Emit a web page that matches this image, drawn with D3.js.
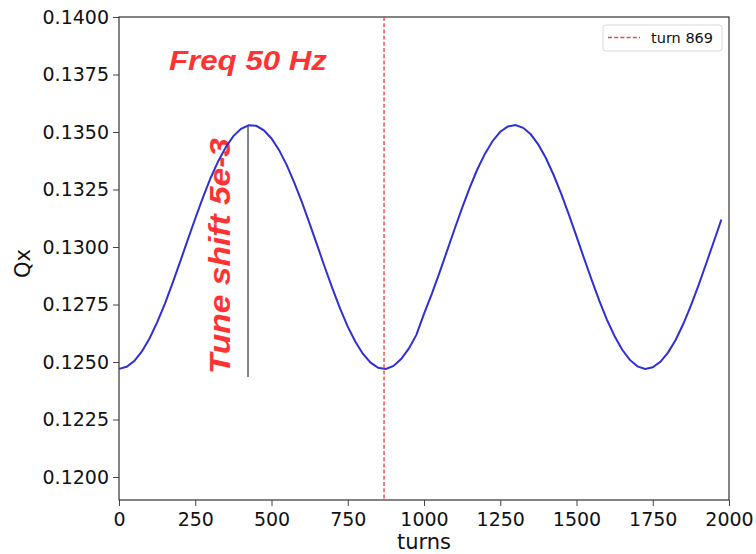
<!DOCTYPE html>
<html>
<head>
<meta charset="utf-8">
<script src="https://cdn.jsdelivr.net/npm/d3@7/dist/d3.min.js"></script>
<style>
  body { margin: 0; background: #fff; }
  svg { display: block; }
</style>
</head>
<body>
<svg id="chart" width="756" height="554"></svg>
<script>
// turns sampled every 25
const turns = d3.range(0, 2000, 25);

// Qx
const qx = [
  0.12470, 0.12479, 0.12504, 0.12546, 0.12602, 0.12672, 0.12752, 0.12841,
  0.12934, 0.13030, 0.13124, 0.13215, 0.13299, 0.13372, 0.13434, 0.13482,
  0.13514, 0.13529, 0.13527, 0.13507, 0.13472, 0.13421, 0.13356, 0.13279,
  0.13194, 0.13102, 0.13007, 0.12911, 0.12819, 0.12732, 0.12654, 0.12588,
  0.12535, 0.12497, 0.12475, 0.12470, 0.12483, 0.12513, 0.12558, 0.12618,
  0.12709, 0.12794, 0.12885, 0.12981, 0.13077, 0.13170, 0.13258, 0.13338,
  0.13406, 0.13461, 0.13501, 0.13524, 0.13530, 0.13518, 0.13490, 0.13445,
  0.13386, 0.13313, 0.13231, 0.13141, 0.13046, 0.12950, 0.12856, 0.12766,
  0.12683, 0.12612, 0.12553, 0.12509, 0.12481, 0.12470, 0.12477, 0.12501,
  0.12541, 0.12596, 0.12665, 0.12745, 0.12833, 0.12927, 0.13023, 0.13119
];

const xTicks = [0, 250, 500, 750, 1000, 1250, 1500, 1750, 2000];
const yTicks = [0.1200, 0.1225, 0.1250, 0.1275, 0.1300, 0.1325, 0.1350, 0.1375, 0.1400];

const markTurn = 869;
const shiftTurn = 423;
const shiftRange = [0.12435, 0.13525];

const svg = d3.select('#chart');
const m = { left: 119, right: 729, top: 17, bottom: 500 };

const x = d3.scaleLinear().domain([0, 2000]).range([m.left, m.right]);
const y = d3.scaleLinear().domain([0.1190, 0.1400]).range([m.bottom, m.top]);

// axes
const xAxis = svg.append('g')
  .attr('transform', `translate(0,${m.bottom})`)
  .call(d3.axisBottom(x).tickValues(xTicks).tickFormat(d3.format('d')).tickSize(6).tickPadding(4));
const yAxis = svg.append('g')
  .attr('transform', `translate(${m.left},0)`)
  .call(d3.axisLeft(y).tickValues(yTicks).tickFormat(d3.format('.4f')).tickSize(6).tickPadding(4));

[xAxis, yAxis].forEach(g => {
  g.selectAll('text')
    .attr('font-family', 'DejaVu Sans')
    .attr('font-size', 19)
    .attr('fill', '#111');
  g.selectAll('line').attr('stroke', '#444');
  g.select('.domain').remove();
});
xAxis.selectAll('text').attr('dy', '0.85em');

// frame
svg.append('rect')
  .attr('x', m.left).attr('y', m.top)
  .attr('width', m.right - m.left).attr('height', m.bottom - m.top)
  .attr('fill', 'none').attr('stroke', '#333').attr('stroke-width', 1.2);

// axis labels
svg.append('text')
  .attr('x', (m.left + m.right) / 2).attr('y', 549)
  .attr('text-anchor', 'middle')
  .attr('font-family', 'DejaVu Sans').attr('font-size', 21)
  .attr('fill', '#111')
  .text('turns');
svg.append('text')
  .attr('transform', `translate(30,${(m.top + m.bottom) / 2 + 5}) rotate(-90)`)
  .attr('text-anchor', 'middle')
  .attr('font-family', 'DejaVu Sans').attr('font-size', 21)
  .attr('fill', '#111')
  .text('Qx');

// annotations
svg.append('text')
  .attr('x', 169).attr('y', 70)
  .attr('font-family', 'Liberation Sans, Arial, sans-serif')
  .attr('font-weight', 'bold').attr('font-style', 'italic')
  .attr('font-size', 28)
  .attr('textLength', 158).attr('lengthAdjust', 'spacingAndGlyphs')
  .attr('fill', '#ff3333')
  .text('Freq 50 Hz');

svg.append('text')
  .attr('transform', 'translate(230,374) rotate(-90)')
  .attr('font-family', 'Liberation Sans, Arial, sans-serif')
  .attr('font-weight', 'bold').attr('font-style', 'italic')
  .attr('font-size', 30)
  .attr('textLength', 236).attr('lengthAdjust', 'spacingAndGlyphs')
  .attr('fill', '#ff3333')
  .text('Tune shift 5e-3');

svg.append('line')
  .attr('x1', x(shiftTurn)).attr('x2', x(shiftTurn))
  .attr('y1', y(shiftRange[0])).attr('y2', y(shiftRange[1]))
  .attr('stroke', '#333').attr('stroke-width', 1.2);

// curve
const line = d3.line()
  .x((d, i) => x(turns[i]))
  .y(d => y(d));

svg.append('path')
  .datum(qx)
  .attr('d', line)
  .attr('fill', 'none')
  .attr('stroke', '#2f2fd6')
  .attr('stroke-width', 2);

// marker line
svg.append('line')
  .attr('x1', x(markTurn)).attr('x2', x(markTurn))
  .attr('y1', m.top).attr('y2', m.bottom)
  .attr('stroke', '#e24a4a').attr('stroke-width', 1.4)
  .attr('stroke-dasharray', '4,2.2');

// legend
const lg = svg.append('g');
lg.append('rect')
  .attr('x', 603).attr('y', 25).attr('width', 119).attr('height', 26)
  .attr('rx', 3)
  .attr('fill', '#fff').attr('stroke', '#d8d8d8');
lg.append('line')
  .attr('x1', 608).attr('x2', 640).attr('y1', 37.5).attr('y2', 37.5)
  .attr('stroke', '#e24a4a').attr('stroke-width', 1.4)
  .attr('stroke-dasharray', '4,2.2');
lg.append('text')
  .attr('x', 651).attr('y', 43)
  .attr('font-family', 'DejaVu Sans').attr('font-size', 14.5)
  .attr('fill', '#111')
  .text('turn 869');
</script>
</body>
</html>
